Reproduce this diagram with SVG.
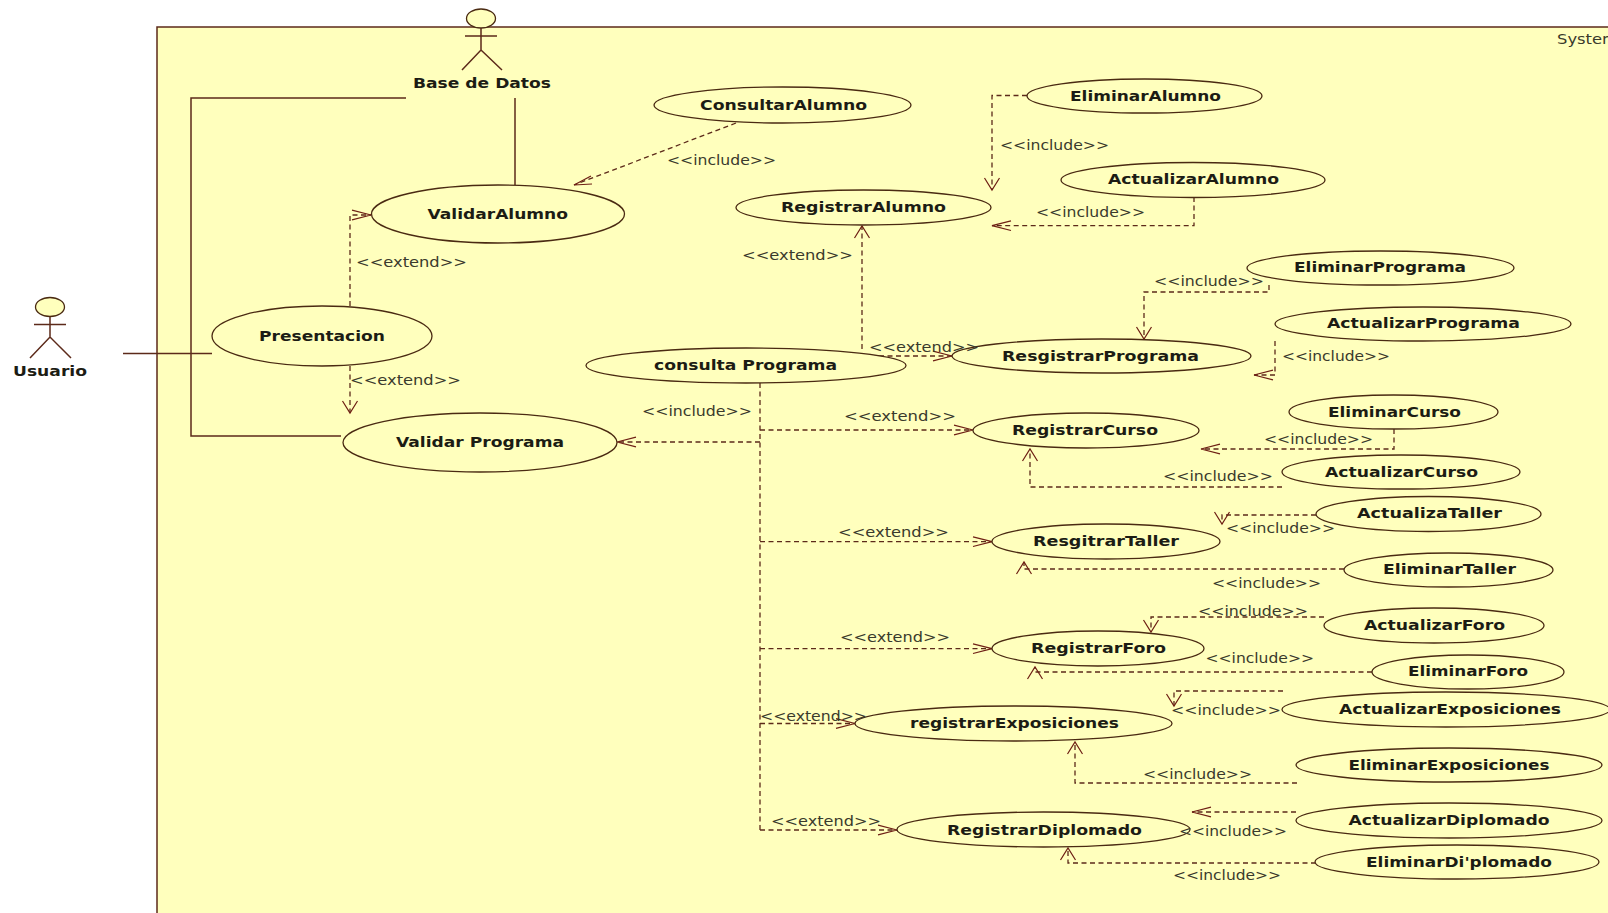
<svg xmlns="http://www.w3.org/2000/svg" width="1608" height="913" viewBox="0 0 1608 913">
<style>
text{font-family:"DejaVu Sans","Liberation Sans",sans-serif;dominant-baseline:central}
.n{font-size:14px;font-weight:bold;fill:#1c1c14;transform:translateY(-0.7px)}
.l{font-size:14.500px;fill:#3a3a2c;transform:translateY(-0.5px)}
.s{fill:none;stroke:#5c2a1a;stroke-width:1.5}
.e{fill:#ffffbd;stroke:#4a2a12;stroke-width:1.3}
.d{fill:none;stroke:#5c2a1a;stroke-width:1.3;stroke-dasharray:5 3.5}
.dh{marker-end:url(#ah)}
.dv{marker-end:url(#av)}
.h{fill:none;stroke:#6e1f14;stroke-width:1.2}
</style>
<defs>
<marker id="ah" markerUnits="userSpaceOnUse" markerWidth="24" markerHeight="14" refX="21" refY="7" orient="auto" overflow="visible"><path d="M2 2.2L21 7L2 11.8" fill="none" stroke="#6e1f14" stroke-width="1.2"/></marker>
<marker id="av" markerUnits="userSpaceOnUse" markerWidth="16" markerHeight="18" refX="14" refY="9" orient="auto" overflow="visible"><path d="M2 1.5L14 9L2 16.5" fill="none" stroke="#6e1f14" stroke-width="1.2"/></marker>
</defs>
<rect width="1608" height="913" fill="#fff"/>
<g id="system-boundary">
<path d="M157 27H1608V913H157Z" fill="#ffffbd"/>
<path d="M157 913V27H1608" class="s"/>
<text class="l" x="1557" y="39" textLength="61" lengthAdjust="spacingAndGlyphs">System</text>
</g>
<g id="connectors">
<path class="s" d="M406 98H191V436H341"/>
<path class="s" d="M515 98V185"/>
<path class="s" d="M123 353.500H212"/>
<path class="d dh" d="M350 306V215H371"/>
<path class="d dv" d="M350 366V413"/>
<path class="d" d="M736 123L574 185"/>
<path class="h" d="M591 176L574 185L592 184"/>
<path class="d" d="M760 383V830"/>
<path class="d dh" d="M760 442H617"/>
<path class="d dh" d="M760 430H973"/>
<path class="d dh" d="M760 541.700H992"/>
<path class="d dh" d="M760 648.700H992"/>
<path class="d dh" d="M760 723.500H855"/>
<path class="d dh" d="M760 830H897"/>
<path class="d dv" d="M1027 95.500H992V190"/>
<path class="d dh" d="M1194 197V225.700H992"/>
<path class="d dv" d="M862 349V226"/>
<path class="d dh" d="M862 356H952"/>
<path class="d dv" d="M1269 285V292H1144V339"/>
<path class="d dh" d="M1275 341V375H1254"/>
<path class="d dh" d="M1394 429V449H1201"/>
<path class="d dv" d="M1282 487H1030V449"/>
<path class="d dv" d="M1316 515H1222V524"/>
<path class="d dv" d="M1344 569H1024V562"/>
<path class="d dv" d="M1324 617H1151V632"/>
<path class="d dv" d="M1372 672H1035V667"/>
<path class="d dv" d="M1283 691H1174V706"/>
<path class="d dv" d="M1297 783H1075V742"/>
<path class="d dh" d="M1296 812H1192"/>
<path class="d dv" d="M1316 863H1068V848"/>
</g>
<g id="actor-base-de-datos">
<ellipse class="e" cx="481" cy="18.500" rx="14.500" ry="9.500"/>
<path class="s" d="M481 28V50M465 36H497M462 70L481 50L502 70"/>
<text class="n" x="413" y="84" textLength="138" lengthAdjust="spacingAndGlyphs">Base de Datos</text>
</g>
<g id="actor-usuario">
<ellipse class="e" cx="50" cy="307" rx="14.500" ry="9.500"/>
<path class="s" d="M50 316.500V337M34 324.500H66M30 358L50 337L71 358"/>
<text class="n" x="13" y="372" textLength="74" lengthAdjust="spacingAndGlyphs">Usuario</text>
</g>
<g id="uc-validaralumno"><ellipse class="e" cx="498" cy="214" rx="126.500" ry="29"/><text class="n" x="427.500" y="215" textLength="140.500" lengthAdjust="spacingAndGlyphs">ValidarAlumno</text></g>
<g id="uc-presentacion"><ellipse class="e" cx="322" cy="336" rx="110" ry="30"/><text class="n" x="259" y="337" textLength="126" lengthAdjust="spacingAndGlyphs">Presentacion</text></g>
<g id="uc-validarprograma"><ellipse class="e" cx="480" cy="442.500" rx="137" ry="29.500"/><text class="n" x="396" y="443" textLength="168" lengthAdjust="spacingAndGlyphs">Validar Programa</text></g>
<g id="uc-consultaralumno"><ellipse class="e" cx="782.500" cy="105" rx="128.500" ry="18"/><text class="n" x="700" y="106" textLength="167" lengthAdjust="spacingAndGlyphs">ConsultarAlumno</text></g>
<g id="uc-registraralumno"><ellipse class="e" cx="863.500" cy="207.500" rx="127.500" ry="17.500"/><text class="n" x="781" y="208" textLength="165" lengthAdjust="spacingAndGlyphs">RegistrarAlumno</text></g>
<g id="uc-consultaprograma"><ellipse class="e" cx="746" cy="365.500" rx="160" ry="17.500"/><text class="n" x="654" y="366" textLength="183" lengthAdjust="spacingAndGlyphs">consulta Programa</text></g>
<g id="uc-eliminaralumno"><ellipse class="e" cx="1144.500" cy="96" rx="117.500" ry="17"/><text class="n" x="1070" y="97" textLength="151" lengthAdjust="spacingAndGlyphs">EliminarAlumno</text></g>
<g id="uc-actualizaralumno"><ellipse class="e" cx="1193" cy="180" rx="132" ry="17.500"/><text class="n" x="1108" y="180" textLength="171" lengthAdjust="spacingAndGlyphs">ActualizarAlumno</text></g>
<g id="uc-eliminarprograma"><ellipse class="e" cx="1380.500" cy="268" rx="133.500" ry="17"/><text class="n" x="1294" y="268" textLength="172" lengthAdjust="spacingAndGlyphs">EliminarPrograma</text></g>
<g id="uc-actualizarprograma"><ellipse class="e" cx="1423" cy="324" rx="148" ry="17"/><text class="n" x="1327" y="324" textLength="193" lengthAdjust="spacingAndGlyphs">ActualizarPrograma</text></g>
<g id="uc-resgistrarprograma"><ellipse class="e" cx="1101.500" cy="356" rx="149.500" ry="17"/><text class="n" x="1002" y="357" textLength="197" lengthAdjust="spacingAndGlyphs">ResgistrarPrograma</text></g>
<g id="uc-registrarcurso"><ellipse class="e" cx="1086" cy="430.500" rx="113" ry="17.500"/><text class="n" x="1012" y="431" textLength="146" lengthAdjust="spacingAndGlyphs">RegistrarCurso</text></g>
<g id="uc-eliminarcurso"><ellipse class="e" cx="1393.500" cy="412" rx="104.500" ry="17"/><text class="n" x="1328" y="413" textLength="133" lengthAdjust="spacingAndGlyphs">EliminarCurso</text></g>
<g id="uc-actualizarcurso"><ellipse class="e" cx="1401" cy="472" rx="119" ry="17"/><text class="n" x="1325" y="473" textLength="153" lengthAdjust="spacingAndGlyphs">ActualizarCurso</text></g>
<g id="uc-actualizataller"><ellipse class="e" cx="1428.500" cy="514" rx="112.500" ry="17.500"/><text class="n" x="1357" y="514" textLength="145" lengthAdjust="spacingAndGlyphs">ActualizaTaller</text></g>
<g id="uc-resgitrartaller"><ellipse class="e" cx="1106" cy="541.500" rx="114" ry="17.500"/><text class="n" x="1033" y="542" textLength="146" lengthAdjust="spacingAndGlyphs">ResgitrarTaller</text></g>
<g id="uc-eliminartaller"><ellipse class="e" cx="1448.500" cy="570" rx="104.500" ry="17"/><text class="n" x="1383" y="570" textLength="133" lengthAdjust="spacingAndGlyphs">EliminarTaller</text></g>
<g id="uc-actualizarforo"><ellipse class="e" cx="1434" cy="625.500" rx="110" ry="17.500"/><text class="n" x="1364" y="626" textLength="141" lengthAdjust="spacingAndGlyphs">ActualizarForo</text></g>
<g id="uc-registrarforo"><ellipse class="e" cx="1098" cy="648.500" rx="106" ry="17.500"/><text class="n" x="1031" y="649" textLength="135" lengthAdjust="spacingAndGlyphs">RegistrarForo</text></g>
<g id="uc-eliminarforo"><ellipse class="e" cx="1468" cy="672" rx="96" ry="17"/><text class="n" x="1408" y="672" textLength="120" lengthAdjust="spacingAndGlyphs">EliminarForo</text></g>
<g id="uc-registrarexposiciones"><ellipse class="e" cx="1013.500" cy="723.500" rx="158.500" ry="17.500"/><text class="n" x="910" y="724" textLength="209" lengthAdjust="spacingAndGlyphs">registrarExposiciones</text></g>
<g id="uc-actualizarexposiciones"><ellipse class="e" cx="1446" cy="709.500" rx="164" ry="17.500"/><text class="n" x="1339" y="710" textLength="222" lengthAdjust="spacingAndGlyphs">ActualizarExposiciones</text></g>
<g id="uc-eliminarexposiciones"><ellipse class="e" cx="1449" cy="765" rx="153" ry="17"/><text class="n" x="1348.500" y="766" textLength="201" lengthAdjust="spacingAndGlyphs">EliminarExposiciones</text></g>
<g id="uc-actualizardiplomado"><ellipse class="e" cx="1449" cy="820.500" rx="153" ry="17.500"/><text class="n" x="1348.500" y="821" textLength="201" lengthAdjust="spacingAndGlyphs">ActualizarDiplomado</text></g>
<g id="uc-registrardiplomado"><ellipse class="e" cx="1043.500" cy="829.500" rx="146.500" ry="17.500"/><text class="n" x="947" y="831" textLength="195" lengthAdjust="spacingAndGlyphs">RegistrarDiplomado</text></g>
<g id="uc-eliminardiplomado"><ellipse class="e" cx="1457" cy="862" rx="142" ry="17"/><text class="n" x="1366" y="863" textLength="186" lengthAdjust="spacingAndGlyphs">EliminarDi'plomado</text></g>
<g id="connector-labels">
<text class="l" x="356" y="262" textLength="111" lengthAdjust="spacingAndGlyphs">&lt;&lt;extend&gt;&gt;</text>
<text class="l" x="350" y="380" textLength="111" lengthAdjust="spacingAndGlyphs">&lt;&lt;extend&gt;&gt;</text>
<text class="l" x="667" y="160" textLength="109" lengthAdjust="spacingAndGlyphs">&lt;&lt;include&gt;&gt;</text>
<text class="l" x="742" y="255" textLength="111" lengthAdjust="spacingAndGlyphs">&lt;&lt;extend&gt;&gt;</text>
<text class="l" x="642" y="411" textLength="110" lengthAdjust="spacingAndGlyphs">&lt;&lt;include&gt;&gt;</text>
<text class="l" x="844" y="416" textLength="112" lengthAdjust="spacingAndGlyphs">&lt;&lt;extend&gt;&gt;</text>
<text class="l" x="1000" y="145" textLength="109" lengthAdjust="spacingAndGlyphs">&lt;&lt;include&gt;&gt;</text>
<text class="l" x="1036" y="212" textLength="109" lengthAdjust="spacingAndGlyphs">&lt;&lt;include&gt;&gt;</text>
<text class="l" x="1154" y="281" textLength="110" lengthAdjust="spacingAndGlyphs">&lt;&lt;include&gt;&gt;</text>
<text class="l" x="1282" y="356" textLength="108" lengthAdjust="spacingAndGlyphs">&lt;&lt;include&gt;&gt;</text>
<text class="l" x="869" y="347" textLength="110" lengthAdjust="spacingAndGlyphs">&lt;&lt;extend&gt;&gt;</text>
<text class="l" x="1264" y="439" textLength="109" lengthAdjust="spacingAndGlyphs">&lt;&lt;include&gt;&gt;</text>
<text class="l" x="1163" y="476" textLength="110" lengthAdjust="spacingAndGlyphs">&lt;&lt;include&gt;&gt;</text>
<text class="l" x="1226" y="528" textLength="109" lengthAdjust="spacingAndGlyphs">&lt;&lt;include&gt;&gt;</text>
<text class="l" x="838" y="532" textLength="111" lengthAdjust="spacingAndGlyphs">&lt;&lt;extend&gt;&gt;</text>
<text class="l" x="1212" y="583" textLength="109" lengthAdjust="spacingAndGlyphs">&lt;&lt;include&gt;&gt;</text>
<text class="l" x="1198" y="611" textLength="110" lengthAdjust="spacingAndGlyphs">&lt;&lt;include&gt;&gt;</text>
<text class="l" x="840" y="637" textLength="110" lengthAdjust="spacingAndGlyphs">&lt;&lt;extend&gt;&gt;</text>
<text class="l" x="1205.500" y="658" textLength="108.500" lengthAdjust="spacingAndGlyphs">&lt;&lt;include&gt;&gt;</text>
<text class="l" x="760" y="716" textLength="107" lengthAdjust="spacingAndGlyphs">&lt;&lt;extend&gt;&gt;</text>
<text class="l" x="1171" y="710" textLength="110" lengthAdjust="spacingAndGlyphs">&lt;&lt;include&gt;&gt;</text>
<text class="l" x="1143" y="774" textLength="109" lengthAdjust="spacingAndGlyphs">&lt;&lt;include&gt;&gt;</text>
<text class="l" x="771" y="821" textLength="110" lengthAdjust="spacingAndGlyphs">&lt;&lt;extend&gt;&gt;</text>
<text class="l" x="1179" y="831" textLength="108" lengthAdjust="spacingAndGlyphs">&lt;&lt;include&gt;&gt;</text>
<text class="l" x="1173" y="875" textLength="108" lengthAdjust="spacingAndGlyphs">&lt;&lt;include&gt;&gt;</text>
</g>
</svg>
